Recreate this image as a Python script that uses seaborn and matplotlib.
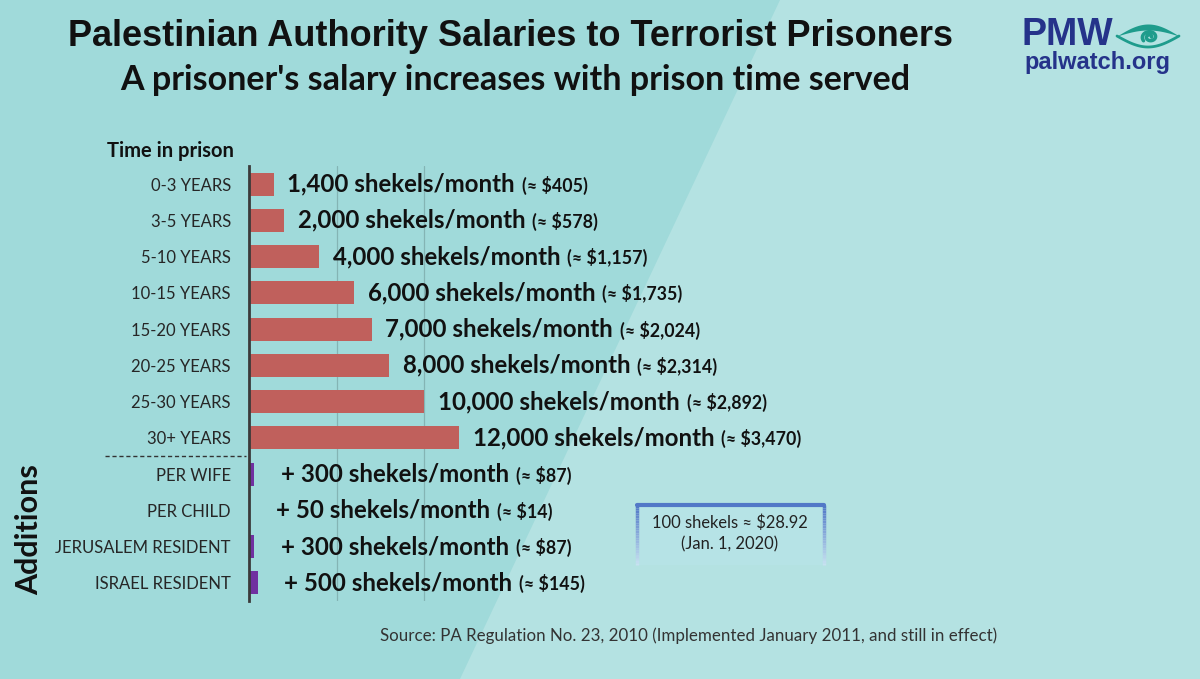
import numpy as np
import pandas as pd
import matplotlib.pyplot as plt
import seaborn as sns
from matplotlib.offsetbox import TextArea, HPacker, AnnotationBbox
from matplotlib.patches import Polygon, Rectangle
from matplotlib.collections import LineCollection

# --- data ---
periods = ["0-3 YEARS", "3-5 YEARS", "5-10 YEARS", "10-15 YEARS",
           "15-20 YEARS", "20-25 YEARS", "25-30 YEARS", "30+ YEARS"]
salary_shekels = [1400, 2000, 4000, 6000, 7000, 8000, 10000, 12000]
salary_dollars = ["405", "578", "1,157", "1,735", "2,024", "2,314", "2,892", "3,470"]

additions = ["PER WIFE", "PER CHILD", "JERUSALEM RESIDENT", "ISRAEL RESIDENT"]
add_shekels = [300, 50, 300, 500]
add_dollars = ["87", "14", "87", "145"]

W, H = 1200, 679
BG_LEFT = "#A0DADA"
BG_RIGHT = "#B4E2E2"
RED = "#C0605C"
PURPLE = "#7030A0"
CAL = ["Lato", "DejaVu Sans"]
ARIAL = ["Liberation Sans", "DejaVu Sans"]

sns.set_theme(style="white")
plt.rcParams["font.family"] = CAL


def fx(px):
    return px / W


def fy(py):
    return 1 - py / H


df = pd.DataFrame({
    "label": periods + additions,
    "shekels": salary_shekels + add_shekels,
    "group": ["base"] * len(periods) + ["add"] * len(additions),
})

fig = plt.figure(figsize=(12, 6.79), dpi=100)
fig.patch.set_facecolor(BG_LEFT)
fig.add_artist(Polygon([(fx(780), 1), (1, 1), (1, 0), (fx(460), 0)],
                       closed=True, transform=fig.transFigure,
                       facecolor=BG_RIGHT, edgecolor="none", zorder=0))

ax = fig.add_axes([fx(249), fy(601), 262.5 / W, 435 / H])
ax.set_facecolor("none")
sns.barplot(data=df, x="shekels", y="label", hue="group", orient="h",
            palette={"base": RED, "add": PURPLE}, dodge=False, width=0.63,
            saturation=1, linewidth=0, legend=False, ax=ax, zorder=3)

ax.set_xlim(0, 15000)
ax.set_ylim(len(df) - 0.5, -0.5)
ax.set_xticks([5000, 10000])
ax.xaxis.grid(True, color="#84B4B4", lw=0.9, zorder=0)
ax.tick_params(axis="x", bottom=False, labelbottom=False)
ax.tick_params(axis="y", left=False, pad=7, labelsize=12, labelcolor="#262626")
ax.set_xlabel("")
ax.set_ylabel("")
for s in ["top", "right", "bottom"]:
    ax.spines[s].set_visible(False)
ax.spines["left"].set_color("#3A3A3A")
ax.spines["left"].set_linewidth(2)
ax.spines["left"].set_zorder(4)

# value labels: big bold amount + smaller dollar equivalent
for i, row in df.iterrows():
    if row["group"] == "base":
        main = f"{row['shekels']:,} shekels/month"
        usd = salary_dollars[i]
        off = 10
    else:
        main = f"+ {row['shekels']:,} shekels/month"
        usd = add_dollars[i - len(periods)]
        off = 19
    t1 = TextArea(main, textprops=dict(fontsize=17.3, fontweight="bold",
                                       color="#111111", family=CAL))
    t2 = TextArea(f"(\u2248 ${usd})", textprops=dict(fontsize=12.8, fontweight="bold",
                                                     color="#111111", family=CAL))
    box = HPacker(children=[t1, t2], align="baseline", pad=0, sep=5)
    ab = AnnotationBbox(box, (row["shekels"], i), xybox=(off, 0),
                        xycoords="data", boxcoords="offset points",
                        box_alignment=(0, 0.5), frameon=False,
                        annotation_clip=False, zorder=5)
    ax.add_artist(ab)

# dashed separator between prison time and additions
ax.plot([-0.55, -0.012], [len(periods) - 0.5] * 2, transform=ax.get_yaxis_transform(),
        color="#333333", lw=1, ls=(0, (3, 2)), clip_on=False)

# titles and notes
fig.text(fx(510), fy(37), "Palestinian Authority Salaries to Terrorist Prisoners",
         ha="center", va="center", fontsize=26, fontweight="bold",
         family=ARIAL, color="#111111")
fig.text(fx(515), fy(80), "A prisoner's salary increases with prison time served",
         ha="center", va="center", fontsize=24.5, fontweight="bold",
         family=CAL, color="#111111")
fig.text(fx(107), fy(151), "Time in prison", ha="left", va="center",
         fontsize=14.5, fontweight="bold", color="#111111")
fig.text(fx(29), fy(530), "Additions", ha="center", va="center", rotation=90,
         fontsize=22, fontweight="bold", color="#111111")
fig.text(fx(380), fy(636),
         "Source: PA Regulation No. 23, 2010 (Implemented January 2011, and still in effect)",
         ha="left", va="center", fontsize=12.2, color="#333333")

# exchange rate box
bx0, bx1, by0, by1 = 637, 824, 505, 565
fig.add_artist(Rectangle((fx(bx0), fy(by1)), fx(bx1 - bx0), (by1 - by0) / H,
                         transform=fig.transFigure, facecolor="#B6E3E6",
                         edgecolor="none", zorder=1))
n = 24
ys = np.linspace(by0, by1, n + 1)
segs, cols = [], []
top_c = np.array([0.32, 0.47, 0.78])
bot_c = np.array([0.80, 0.90, 0.95])
for k in range(n):
    c = top_c + (bot_c - top_c) * (k / n)
    for xx in (bx0, bx1):
        segs.append([(fx(xx), fy(ys[k])), (fx(xx), fy(ys[k + 1]))])
        cols.append(c)
fig.add_artist(LineCollection(segs, colors=cols, linewidths=2.5,
                              transform=fig.transFigure, zorder=2))
fig.add_artist(plt.Line2D([fx(bx0), fx(bx1)], [fy(by0), fy(by0)],
                          transform=fig.transFigure, color=top_c, lw=3, zorder=2))
fig.text(fx(730), fy(523), "100 shekels \u2248 $28.92", ha="center", va="center",
         fontsize=11.9, color="#222222", zorder=3)
fig.text(fx(730), fy(544), "(Jan. 1, 2020)", ha="center", va="center",
         fontsize=11.9, color="#222222", zorder=3)

# PMW logo
fig.text(fx(1021), fy(35), "PMW", ha="left", va="center", fontsize=27,
         fontweight="bold", family=ARIAL, color="#25338A")
fig.text(fx(1024), fy(63), "palwatch.org", ha="left", va="center", fontsize=17,
         fontweight="bold", family=ARIAL, color="#25338A")
eye = fig.add_axes([fx(1114), fy(54), 68 / W, 36 / H])
eye.set_xlim(0, 68)
eye.set_ylim(0, 36)
eye.axis("off")
t = np.linspace(0, 1, 60)
ex = 3 + 62 * t
eye.fill_between(ex, 18 + 12 * np.sin(np.pi * t), 18 + 6 * np.sin(np.pi * t),
                 color="#1E9C8C", lw=0)
eye.plot(ex, 18 - 11 * np.sin(np.pi * t), color="#1E9C8C", lw=2)
ang = np.linspace(0, 2 * np.pi * 1.6, 120)
rad = 1.5 + 6.5 * ang / ang.max()
eye.plot(36 + rad * np.cos(ang), 17 + 0.8 * rad * np.sin(ang), color="#1E9C8C", lw=2.5)

fig.savefig("out.png", dpi=100)
